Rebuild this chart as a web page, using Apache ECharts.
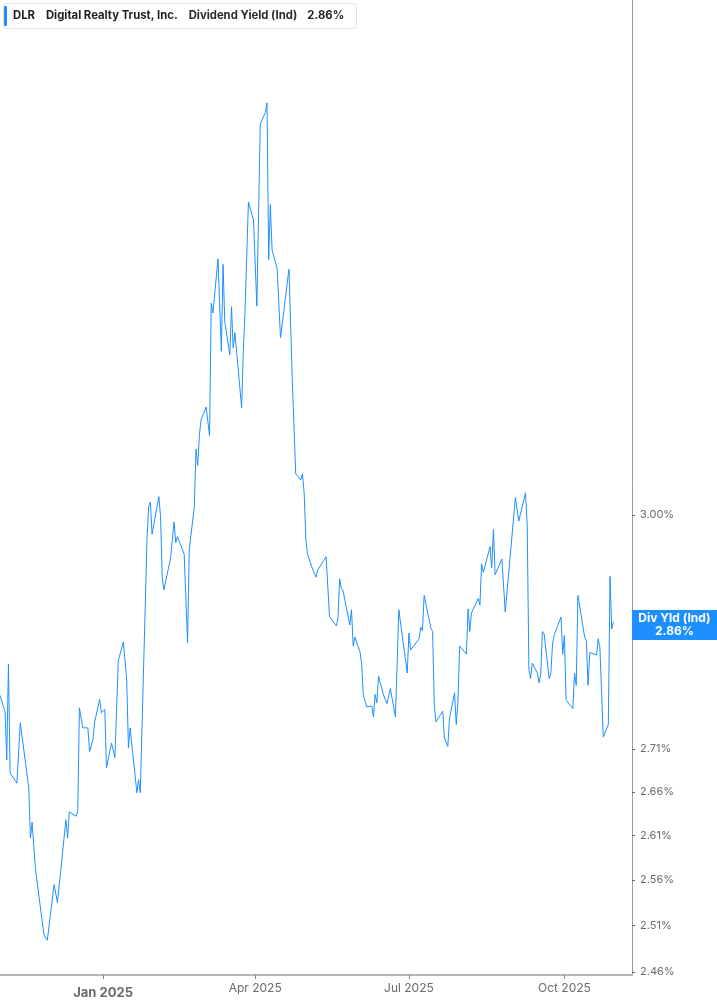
<!DOCTYPE html>
<html>
<head>
<meta charset="utf-8">
<title>DLR Dividend Yield</title>
<script src="https://cdn.jsdelivr.net/npm/echarts@6.0.0/dist/echarts.min.js"></script>
<style>
  html, body { margin: 0; padding: 0; background: #fff; }
  #chart { width: 717px; height: 1005px; }
</style>
</head>
<body>
<div id="chart"></div>
<script>
// trading days (only the visible turning points)
const dates = [
  '2024-11-01', '2024-11-04', '2024-11-05', '2024-11-06', '2024-11-07', '2024-11-11', '2024-11-13', '2024-11-14',
  '2024-11-18', '2024-11-19', '2024-11-20', '2024-11-22', '2024-11-27', '2024-11-29', '2024-12-03', '2024-12-04',
  '2024-12-05', '2024-12-10', '2024-12-11', '2024-12-12', '2024-12-16', '2024-12-17', '2024-12-18', '2024-12-19',
  '2024-12-20', '2024-12-23', '2024-12-24', '2024-12-26', '2024-12-27', '2024-12-30', '2024-12-31', '2025-01-02',
  '2025-01-03', '2025-01-06', '2025-01-08', '2025-01-10', '2025-01-13', '2025-01-15', '2025-01-16', '2025-01-17',
  '2025-01-21', '2025-01-22', '2025-01-23', '2025-01-27', '2025-01-28', '2025-01-29', '2025-01-30', '2025-02-03',
  '2025-02-04', '2025-02-05', '2025-02-06', '2025-02-07', '2025-02-10', '2025-02-12', '2025-02-13', '2025-02-14',
  '2025-02-18', '2025-02-20', '2025-02-21', '2025-02-24', '2025-02-25', '2025-02-26', '2025-02-27', '2025-02-28',
  '2025-03-03', '2025-03-05', '2025-03-06', '2025-03-07', '2025-03-10', '2025-03-12', '2025-03-13', '2025-03-14',
  '2025-03-17', '2025-03-18', '2025-03-19', '2025-03-20', '2025-03-24', '2025-03-25', '2025-03-26', '2025-03-28',
  '2025-03-31', '2025-04-02', '2025-04-04', '2025-04-07', '2025-04-08', '2025-04-09', '2025-04-10', '2025-04-11',
  '2025-04-14', '2025-04-15', '2025-04-16', '2025-04-21', '2025-04-23', '2025-04-25', '2025-04-28', '2025-04-29',
  '2025-04-30', '2025-05-01', '2025-05-02', '2025-05-05', '2025-05-06', '2025-05-07', '2025-05-08', '2025-05-13',
  '2025-05-15', '2025-05-19', '2025-05-20', '2025-05-21', '2025-05-22', '2025-05-23', '2025-05-27', '2025-05-28',
  '2025-05-29', '2025-05-30', '2025-06-02', '2025-06-03', '2025-06-04', '2025-06-05', '2025-06-06', '2025-06-09',
  '2025-06-10', '2025-06-11', '2025-06-12', '2025-06-13', '2025-06-16', '2025-06-17', '2025-06-18', '2025-06-20',
  '2025-06-23', '2025-06-24', '2025-06-25', '2025-06-30', '2025-07-01', '2025-07-02', '2025-07-07', '2025-07-08',
  '2025-07-09', '2025-07-10', '2025-07-14', '2025-07-15', '2025-07-16', '2025-07-17', '2025-07-21', '2025-07-22',
  '2025-07-23', '2025-07-24', '2025-07-25', '2025-07-28', '2025-07-29', '2025-07-30', '2025-07-31', '2025-08-04',
  '2025-08-05', '2025-08-06', '2025-08-07', '2025-08-11', '2025-08-12', '2025-08-13', '2025-08-14', '2025-08-18',
  '2025-08-19', '2025-08-20', '2025-08-21', '2025-08-25', '2025-08-27', '2025-09-02', '2025-09-04', '2025-09-08',
  '2025-09-09', '2025-09-10', '2025-09-11', '2025-09-12', '2025-09-15', '2025-09-16', '2025-09-17', '2025-09-18',
  '2025-09-19', '2025-09-22', '2025-09-23', '2025-09-24', '2025-09-25', '2025-09-26', '2025-09-29', '2025-09-30',
  '2025-10-01', '2025-10-02', '2025-10-06', '2025-10-07', '2025-10-08', '2025-10-09', '2025-10-13', '2025-10-14',
  '2025-10-15', '2025-10-16', '2025-10-20', '2025-10-21', '2025-10-22', '2025-10-24', '2025-10-27', '2025-10-28',
  '2025-10-29', '2025-10-30'
];

// dividend yield, %
const yields = [
  2.774, 2.754, 2.697, 2.812, 2.682, 2.670, 2.741, 2.739,
  2.665, 2.607, 2.625, 2.572, 2.500, 2.494, 2.555, 2.557,
  2.535, 2.628, 2.607, 2.637, 2.632, 2.637, 2.759, 2.760,
  2.735, 2.735, 2.707, 2.721, 2.742, 2.769, 2.753, 2.757,
  2.688, 2.717, 2.700, 2.816, 2.839, 2.792, 2.711, 2.735,
  2.659, 2.674, 2.659, 2.968, 3.012, 3.017, 2.975, 3.024,
  2.998, 2.919, 2.904, 2.906, 2.945, 2.991, 2.964, 2.972,
  2.949, 2.838, 2.955, 3.011, 3.087, 3.065, 3.106, 3.127,
  3.144, 3.105, 3.289, 3.275, 3.353, 3.221, 3.345, 3.263,
  3.216, 3.284, 3.226, 3.247, 3.143, 3.223, 3.277, 3.437,
  3.410, 3.285, 3.555, 3.573, 3.588, 3.352, 3.433, 3.366,
  3.339, 3.339, 3.240, 3.338, 3.179, 3.054, 3.046, 3.054,
  3.029, 2.968, 2.949, 2.930, 2.929, 2.920, 2.929, 2.946,
  2.870, 2.859, 2.868, 2.918, 2.906, 2.903, 2.860, 2.879,
  2.834, 2.845, 2.827, 2.813, 2.774, 2.773, 2.760, 2.761,
  2.748, 2.775, 2.765, 2.797, 2.774, 2.773, 2.764, 2.782,
  2.748, 2.748, 2.879, 2.801, 2.850, 2.829, 2.843, 2.857,
  2.853, 2.897, 2.856, 2.852, 2.762, 2.742, 2.755, 2.723,
  2.722, 2.713, 2.746, 2.777, 2.739, 2.766, 2.834, 2.824,
  2.880, 2.852, 2.875, 2.893, 2.885, 2.937, 2.926, 2.959,
  2.932, 2.981, 2.923, 2.943, 2.876, 3.023, 2.992, 3.029,
  2.985, 2.805, 2.794, 2.813, 2.801, 2.789, 2.800, 2.852,
  2.849, 2.794, 2.801, 2.837, 2.848, 2.848, 2.870, 2.824,
  2.847, 2.768, 2.758, 2.801, 2.786, 2.897, 2.845, 2.840,
  2.786, 2.826, 2.823, 2.843, 2.832, 2.724, 2.739, 2.921,
  2.855, 2.864
];

const xTicks = ['2025-01-01', '2025-04-01', '2025-07-01', '2025-10-01'];
const yTicks = [2.46, 2.51, 2.56, 2.61, 2.66, 2.71, 3.00];
const months = ['Jan', 'Feb', 'Mar', 'Apr', 'May', 'Jun', 'Jul', 'Aug', 'Sep', 'Oct', 'Nov', 'Dec'];

const BLUE = '#1e8fff';
const last = yields[yields.length - 1];

// 'YYYY-MM-DD' -> local timestamp
function ts(s) {
  const p = s.split('-');
  return new Date(+p[0], +p[1] - 1, +p[2]).getTime();
}

const myChart = echarts.init(document.getElementById('chart'));

myChart.setOption({
  animation: false,
  textStyle: { fontFamily: 'Inter, "Noto Sans", sans-serif' },
  title: {
    left: 3,
    top: 3,
    padding: [3, 13, 3, 1],
    backgroundColor: '#fff',
    borderColor: '#e3e3e3',
    borderWidth: 1,
    borderRadius: 3,
    text: '{bar|}{tk|DLR}{nm|Digital Realty Trust, Inc.}{lb|Dividend Yield (Ind)}{val|' + last.toFixed(2) + '%}',
    textStyle: {
      rich: {
        bar: { width: 3, height: 20, backgroundColor: BLUE, borderRadius: 1, verticalAlign: 'middle' },
        tk: { fontSize: 11.3, fontWeight: 'bold', color: '#1f1f1f', padding: [0, 0, 0, 6], verticalAlign: 'middle' },
        nm: { fontSize: 11.3, fontWeight: 'bold', color: '#1f1f1f', padding: [0, 0, 0, 11], verticalAlign: 'middle' },
        lb: { fontSize: 11.3, color: '#2a2a2a', padding: [0, 0, 0, 11], verticalAlign: 'middle' },
        val: { fontSize: 11.3, fontWeight: 'bold', color: '#1f1f1f', padding: [0, 0, 0, 10], verticalAlign: 'middle' }
      }
    }
  },
  grid: {
    left: 0,
    right: 85,
    top: 0,
    bottom: 30,
    containLabel: false
  },
  // dates are plotted as timestamps on a linear axis, quarter labels only
  xAxis: {
    type: 'value',
    min: ts('2024-11-01'),
    max: ts('2025-11-10'),
    splitLine: { show: false },
    axisLine: { show: true, onZero: false, lineStyle: { color: '#b5b5b5', width: 2 } },
    axisTick: {
      show: true,
      length: 4,
      customValues: xTicks.map(ts),
      lineStyle: { color: '#888' }
    },
    axisLabel: {
      customValues: xTicks.map(ts),
      margin: 7,
      color: '#6b6b6b',
      fontSize: 12,
      formatter: function (value) {
        const d = new Date(value);
        const txt = months[d.getMonth()] + ' ' + d.getFullYear();
        return d.getMonth() === 0 ? '{yr|' + txt + '}' : txt;
      },
      rich: {
        yr: { fontSize: 13, fontWeight: 'bold', color: '#6b6b6b', padding: [5, 0, 0, 0] }
      }
    }
  },
  yAxis: {
    type: 'log',
    logBase: 10,
    position: 'right',
    min: 2.4566,
    max: 3.752,
    splitLine: { show: false },
    axisLine: { show: true, lineStyle: { color: '#9a9a9a', width: 1 } },
    axisTick: {
      show: true,
      length: 3,
      customValues: yTicks,
      lineStyle: { color: '#666' }
    },
    axisLabel: {
      customValues: yTicks,
      margin: 8,
      color: '#6b6b6b',
      fontSize: 11,
      formatter: function (v) {
        return v.toFixed(2) + '%';
      }
    }
  },
  series: [
    {
      name: 'Dividend Yield (Ind)',
      type: 'line',
      clip: false,
      showSymbol: false,
      symbol: 'none',
      lineStyle: { color: BLUE, width: 1 },
      data: dates.map(function (d, i) {
        return [ts(d), yields[i]];
      }),
      markLine: {
        silent: true,
        symbol: 'none',
        lineStyle: { color: 'transparent', width: 0, type: 'solid' },
        label: {
          show: true,
          position: 'end',
          distance: 0,
          backgroundColor: BLUE,
          padding: [2, 0, 2, 0],
          formatter: '{a|Div Yld (Ind)}\n{a|' + last.toFixed(2) + '%}',
          rich: {
            a: { width: 85, align: 'center', color: '#fff', fontSize: 12, fontWeight: 'bold', lineHeight: 13 }
          }
        },
        emphasis: { disabled: true },
        data: [{ yAxis: last }]
      }
    }
  ]
});
</script>
</body>
</html>
